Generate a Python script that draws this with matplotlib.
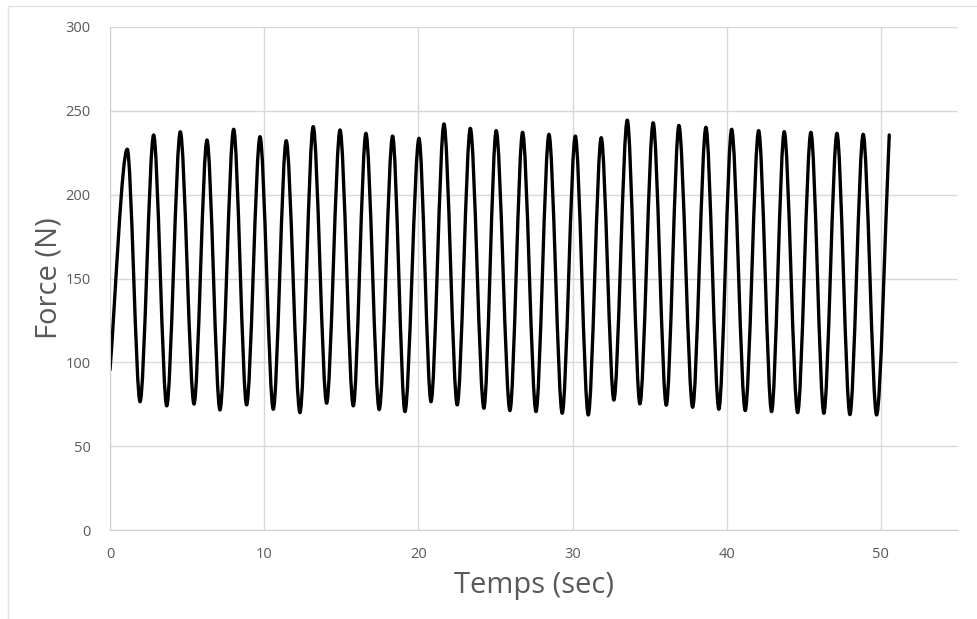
import matplotlib.pyplot as plt
from matplotlib.patches import Rectangle, PathPatch
from matplotlib.path import Path

# extrema (time in s, force in N)
start_t, start_f = 0.0, 95.5
end_t, end_f = 50.54, 235.6

peak_t = [1.12, 2.83, 4.56, 6.29, 8.02, 9.73, 11.43, 13.18, 14.92, 16.60,
          18.33, 20.04, 21.66, 23.37, 25.05, 26.76, 28.47, 30.18, 31.86, 33.55,
          35.23, 36.90, 38.65, 40.32, 42.07, 43.73, 45.46, 47.15, 48.85]
peak_f = [227.1, 235.6, 237.5, 232.6, 239.0, 234.6, 232.2, 240.6, 238.6, 236.6,
          235.0, 233.6, 242.2, 239.6, 238.2, 237.2, 236.0, 235.0, 234.0, 244.5,
          242.9, 241.3, 240.2, 239.0, 238.2, 237.6, 237.2, 236.6, 236.0]

trough_t = [1.95, 3.68, 5.45, 7.13, 8.86, 10.59, 12.32, 14.05, 15.78, 17.46,
            19.13, 20.82, 22.52, 24.25, 25.94, 27.63, 29.33, 31.02, 32.68, 34.37,
            36.08, 37.79, 39.49, 41.20, 42.91, 44.60, 46.30, 47.99, 49.72]
trough_f = [76.5, 74.0, 75.1, 71.6, 74.6, 72.0, 70.0, 75.6, 74.0, 71.8,
            70.6, 76.5, 74.6, 72.6, 71.2, 70.6, 69.6, 68.6, 77.5, 75.2,
            74.4, 73.2, 72.0, 71.2, 70.6, 70.0, 69.6, 68.8, 68.6]

x_ticks = [0, 10, 20, 30, 40, 50]
y_ticks = [0, 50, 100, 150, 200, 250, 300]

t = [start_t]
f = [start_f]
for pt, pf, tt, tf in zip(peak_t, peak_f, trough_t, trough_f):
    t += [pt, tt]
    f += [pf, tf]
t.append(end_t)
f.append(end_f)

# smooth curve through the extrema (flat tangents at peaks and troughs)
k = 0.31
verts = [(t[0], f[0])]
codes = [Path.MOVETO]
for i in range(1, len(t)):
    dt = t[i] - t[i - 1]
    df = f[i] - f[i - 1]
    c1 = (t[i - 1] + k * dt, f[i - 1] + (k * df if i == 1 else 0))
    c2 = (t[i] - k * dt, f[i] - (k * df if i == len(t) - 1 else 0))
    verts += [c1, c2, (t[i], f[i])]
    codes += [Path.CURVE4] * 3

plt.rcParams['font.family'] = ['Open Sans', 'DejaVu Sans']

fig = plt.figure(figsize=(9.77, 6.19), dpi=100)
ax = fig.add_axes([110 / 977, 1 - 530 / 619, 848 / 977, 503 / 619])

ax.add_patch(PathPatch(Path(verts, codes), fill=False, edgecolor='black',
                       lw=2.4, capstyle='round', joinstyle='round'))

ax.set_xlim(0, 55)
ax.set_ylim(0, 300)
ax.set_xticks(x_ticks)
ax.set_yticks(y_ticks)
ax.grid(True, color='#d9d9d9', lw=1)
ax.set_axisbelow(True)
for side in ['top', 'right']:
    ax.spines[side].set_visible(False)
for side in ['left', 'bottom']:
    ax.spines[side].set_color('#d0d0d0')
ax.tick_params(length=0, labelsize=10.5, labelcolor='#595959')
ax.tick_params(axis='y', pad=14)
ax.tick_params(axis='x', pad=12)

ax.set_xlabel('Temps (sec)', fontsize=21, color='#595959', labelpad=7)
ax.set_ylabel('Force (N)', fontsize=21, color='#595959', labelpad=1)

# light frame around the chart area
fig.patches.append(Rectangle((8 / 977, -0.02), 1.05, 1 - 6 / 619 + 0.02,
                             transform=fig.transFigure, fill=False,
                             edgecolor='#e3e3e3', lw=1))

fig.savefig('out.png', dpi=100)
